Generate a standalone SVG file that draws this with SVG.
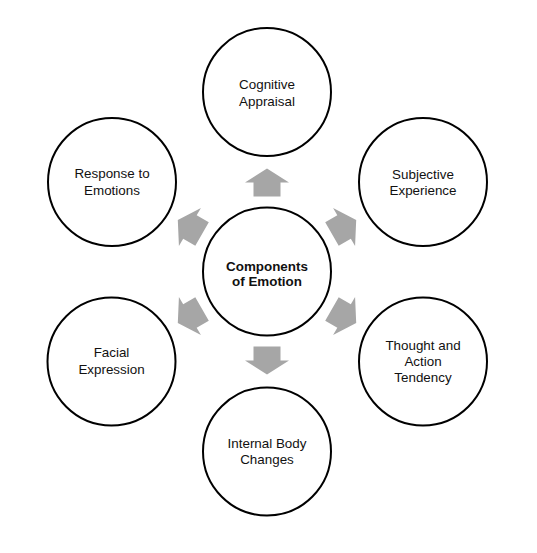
<svg xmlns="http://www.w3.org/2000/svg" width="537" height="553" viewBox="0 0 537 553">
<style>
.node circle{fill:#ffffff;stroke:#000000;stroke-width:2}
.node text{font-family:"Liberation Sans","Open Sans",Arial,sans-serif;font-size:13.4px;fill:#111111;text-anchor:middle}
.node text.b{font-weight:bold}
.arr{fill:#a6a6a6;stroke:none}
</style>
<defs>
<path id="arrow" d="M75,-13.5 L89,-13.5 L89,-22 L103,0 L89,22 L89,13.5 L75,13.5 Z"/>
</defs>
<rect width="537" height="553" fill="#ffffff"/>
<g id="connectors" transform="translate(267,271.5)">
<use href="#arrow" class="arr" transform="rotate(-90)"/>
<use href="#arrow" class="arr" transform="rotate(-30)"/>
<use href="#arrow" class="arr" transform="rotate(30)"/>
<use href="#arrow" class="arr" transform="rotate(90)"/>
<use href="#arrow" class="arr" transform="rotate(150)"/>
<use href="#arrow" class="arr" transform="rotate(210)"/>
</g>
<g id="center" class="node">
<circle cx="267" cy="271.5" r="64"/>
<text class="b" x="267" y="270.5">Components</text>
<text class="b" x="267" y="286">of Emotion</text>
</g>
<g id="cognitive-appraisal" class="node">
<circle cx="267" cy="92" r="64"/>
<text x="267" y="89">Cognitive</text>
<text x="267" y="105.5">Appraisal</text>
</g>
<g id="subjective-experience" class="node">
<circle cx="423" cy="182" r="64"/>
<text x="423" y="178.5">Subjective</text>
<text x="423" y="195">Experience</text>
</g>
<g id="thought-action" class="node">
<circle cx="423" cy="361.5" r="64"/>
<text x="423" y="349.5">Thought and</text>
<text x="423" y="366">Action</text>
<text x="423" y="382">Tendency</text>
</g>
<g id="internal-body" class="node">
<circle cx="267" cy="451.5" r="64"/>
<text x="267" y="447.5">Internal Body</text>
<text x="267" y="463.5">Changes</text>
</g>
<g id="facial-expression" class="node">
<circle cx="111.5" cy="361.5" r="64"/>
<text x="111.5" y="357">Facial</text>
<text x="111.5" y="373.5">Expression</text>
</g>
<g id="response-emotions" class="node">
<circle cx="112" cy="182" r="64"/>
<text x="112" y="178">Response to</text>
<text x="112" y="194.5">Emotions</text>
</g>
</svg>
